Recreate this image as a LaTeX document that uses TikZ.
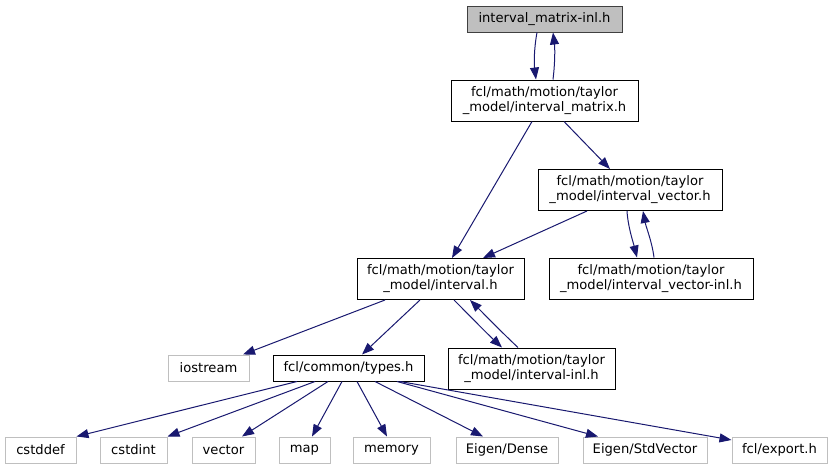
\documentclass[tikz,border=0pt]{standalone}
\usepackage{fontspec}
\setmainfont{DejaVu Sans}
\usetikzlibrary{arrows.meta,calc}
\definecolor{edgec}{HTML}{191970}
\definecolor{greyb}{HTML}{BFBFBF}
\definecolor{topb}{HTML}{404040}
\begin{document}
\begin{tikzpicture}[x=1pt,y=-1pt,
  lbl/.style={inner xsep=3pt, inner ysep=0pt, align=center, font=\fontsize{13.1}{15}\selectfont, text=black},
  box/.style={lbl, draw=black, line width=1pt, minimum height=41pt},
  sbox/.style={lbl, draw=black, line width=1pt, minimum height=26pt},
  sys/.style={lbl, draw=greyb, line width=1pt, minimum height=26pt},
  topbox/.style={lbl, draw=topb, fill=greyb, line width=1pt, minimum height=26pt},
  edge/.style={draw=edgec, line width=1pt, -{Triangle[length=12pt,width=9pt]}}]
\useasboundingbox (0,0) rectangle (833,469);
\fill[white] (0,0) rectangle (833,469);

\node[topbox, minimum width=155pt] (top) at (544.5,19) {interval\_matrix-inl.h};
\node[box, minimum width=187pt] (mat) at (544.5,100.5) {fcl/math/motion/taylor\\\_model/interval\_matrix.h};
\node[box, minimum width=184pt] (vec) at (630,190) {fcl/math/motion/taylor\\\_model/interval\_vector.h};
\node[box, minimum width=167pt] (intv) at (440.5,279) {fcl/math/motion/taylor\\\_model/interval.h};
\node[box, minimum width=204pt] (vecinl) at (651,278.5) {fcl/math/motion/taylor\\\_model/interval\_vector-inl.h};
\node[box, minimum width=167pt] (intinl) at (531.5,368.5) {fcl/math/motion/taylor\\\_model/interval-inl.h};
\node[sys, minimum width=81pt] (iostream) at (208.5,368) {iostream};
\node[sbox, minimum width=151pt] (types) at (348.5,368) {fcl/common/types.h};

\node[sys, minimum width=71pt] (cstddef) at (40.5,450) {cstddef};
\node[sys, minimum width=67pt] (cstdint) at (133.5,450) {cstdint};
\node[sys, minimum width=63pt] (vector) at (223.5,450) {vector};
\node[sys, minimum width=51pt] (map) at (304.5,450) {map};
\node[sys, minimum width=77pt] (memory) at (391.5,450) {memory};
\node[sys, minimum width=102pt] (dense) at (507,450) {Eigen/Dense};
\node[sys, minimum width=124pt] (stdvec) at (645,450) {Eigen/StdVector};
\node[sys, minimum width=95pt] (export) at (779.5,450) {fcl/export.h};

% top <-> mat
\draw[edge] ($(top.south)+(-7.5,0)$) .. controls +(-3,16) and +(-2,-16) .. ($(mat.north)+(-8.5,0)$);
\draw[edge] ($(mat.north)+(8.5,0)$) .. controls +(2,-16) and +(2,16) .. ($(top.south)+(8.5,0)$);

% mat -> intv, vec
\draw[edge] ($(mat.south)+(-12.5,0)$) -- ($(intv.north)+(11.5,0)$);
\draw[edge] ($(mat.south)+(19.5,0)$) -- ($(vec.north)+(-20,0)$);

% vec -> intv, vec <-> vecinl
\draw[edge] ($(vec.south)+(-43,0)$) -- ($(intv.north)+(42.5,0)$);
\draw[edge] ($(vec.south)+(-3,0)$) .. controls +(1,16) and +(-4,-16) .. ($(vecinl.north)+(-14,0)$);
\draw[edge] ($(vecinl.north)+(3,0)$) .. controls +(-2,-16) and +(3,16) .. ($(vec.south)+(13,0)$);

% intv -> iostream, types, intinl
\draw[edge] ($(intv.south)+(-55.5,0)$) -- ($(iostream.north)+(34.5,0)$);
\draw[edge] ($(intv.south)+(-20.5,0)$) -- ($(types.north)+(13.5,0)$);
\draw[edge] ($(intv.south)+(13.5,0)$) .. controls +(14,14) and +(-16,-15) .. ($(intinl.north)+(-29.5,0)$);
\draw[edge] ($(intinl.north)+(-13.5,0)$) .. controls +(-16,-15) and +(14,14) .. ($(intv.south)+(29.5,0)$);

% types -> system headers
\draw[edge] ($(types.south)+(-51.5,0)$) -- (cstddef.north east);
\draw[edge] ($(types.south)+(-33.5,0)$) -- (cstdint.north east);
\draw[edge] ($(types.south)+(-20.5,0)$) -- ($(vector.north)+(18.5,0)$);
\draw[edge] ($(types.south)+(-6.5,0)$) -- ($(map.north)+(7.5,0)$);
\draw[edge] ($(types.south)+(8.5,0)$) -- ($(memory.north)+(-4.5,0)$);
\draw[edge] ($(types.south)+(26.5,0)$) -- ($(dense.north)+(-24,0)$);
\draw[edge] ($(types.south)+(48.5,0)$) -- ($(stdvec.north)+(-47,0)$);
\draw[edge] ($(types.south)+(51.5,0)$) -- ($(export.west)+(0,-10)$);
\end{tikzpicture}
\end{document}
